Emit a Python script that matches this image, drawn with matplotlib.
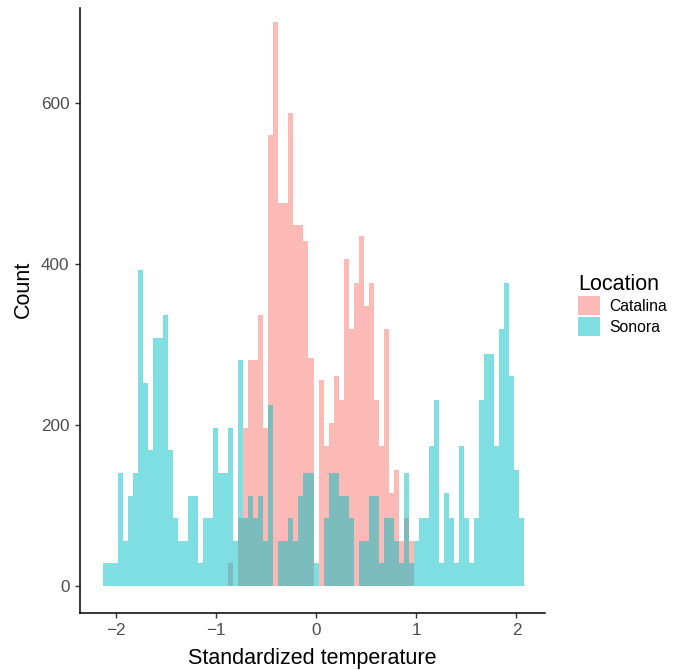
import matplotlib
matplotlib.use("Agg")
import matplotlib.pyplot as plt
from matplotlib.patches import Patch
import numpy as np

plt.rcParams['font.family'] = ['Liberation Sans', 'DejaVu Sans']

# histogram bins (standardized temperature)
bin_start = -2.125
bin_width = 0.05
n_bins = 84

# counts per bin
catalina = [0] * 25 + [
    28, 0, 84, 196, 280, 280, 336, 196, 560, 700,
    476, 476, 588, 448, 448, 428, 283, 0, 255, 174,
    202, 260, 231, 406, 319, 376, 435, 347, 376, 231,
    173, 319, 115, 144, 56, 84, 56,
] + [0] * 22

sonora = [
    28, 28, 28, 140, 56, 112, 140, 392, 252, 168,
    308, 308, 336, 168, 84, 56, 56, 112, 112, 28,
    84, 84, 196, 140, 140, 196, 56, 280, 84, 112,
    84, 112, 56, 224, 0, 56, 56, 84, 56, 112,
    140, 140, 28, 0, 84, 140, 140, 112, 112, 84,
    0, 56, 56, 112, 112, 28, 84, 84, 56, 28,
    140, 28, 56, 84, 84, 173, 231, 28, 115, 84,
    28, 173, 84, 28, 84, 231, 288, 288, 173, 319,
    376, 260, 144, 84,
]

locations = ['Catalina', 'Sonora']
colors = ['#F8766D', '#00BFC4']

left_edges = bin_start + bin_width * np.arange(n_bins)

fig = plt.figure(figsize=(6.8, 6.7), dpi=100)
ax = fig.add_axes([80 / 680, 57 / 670, 465 / 680, 605 / 670])

for counts, col in zip([catalina, sonora], colors):
    ax.bar(left_edges, counts, width=bin_width, align='edge',
           color=col, alpha=0.5, linewidth=0)

ax.set_xlim(-2.355, 2.285)
ax.set_ylim(-34, 718)
ax.set_xticks([-2, -1, 0, 1, 2])
ax.set_yticks([0, 200, 400, 600])

for s in ['top', 'right']:
    ax.spines[s].set_visible(False)
for s in ['left', 'bottom']:
    ax.spines[s].set_linewidth(1.1)
    ax.spines[s].set_color('black')

ax.tick_params(axis='both', direction='out', length=3.5, width=1,
               color='#333333', labelcolor='#4D4D4D', labelsize=12.3, pad=4)

ax.set_xlabel('Standardized temperature', fontsize=15.5, color='black', labelpad=7)
ax.set_ylabel('Count', fontsize=15.5, color='black')
ax.yaxis.set_label_coords(-0.1, 0.535)

handles = [Patch(facecolor=c, alpha=0.5, linewidth=0) for c in colors]
leg = fig.legend(handles, locations, title='Location', loc='center left',
                 bbox_to_anchor=(572 / 680, 1 - 305 / 670), frameon=False,
                 fontsize=11.3, title_fontsize=15.5, handlelength=1.4,
                 handleheight=1.55, labelspacing=0.08, handletextpad=0.55,
                 borderaxespad=0, alignment='left')

fig.savefig('out.png', dpi=100)
